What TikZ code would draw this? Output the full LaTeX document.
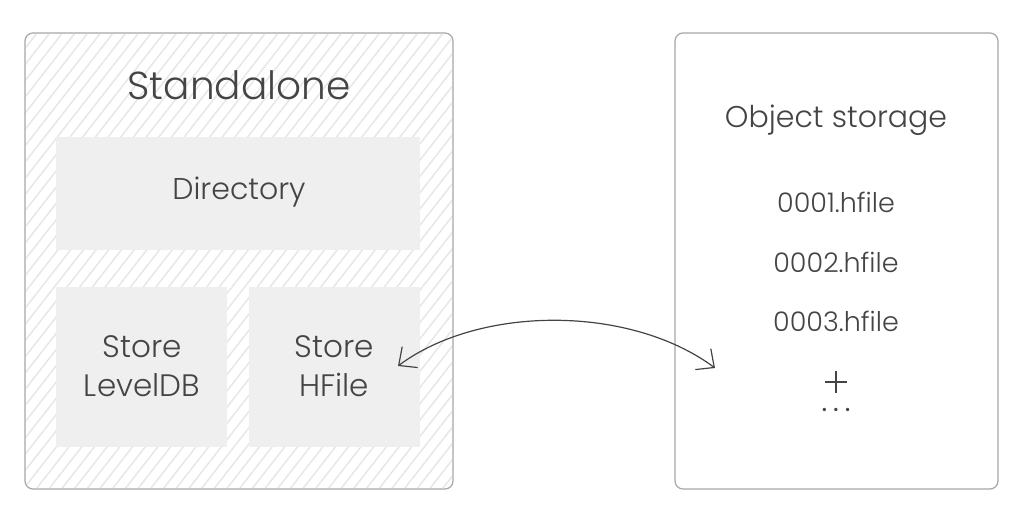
\documentclass[tikz,border=0pt]{standalone}
\usepackage{fontspec}
\setmainfont{Poppins Light}
\newfontfamily\dotfont{Poppins}
\usepackage{tikz}
\usetikzlibrary{arrows.meta,patterns.meta}
\definecolor{txtgray}{HTML}{444444}
\definecolor{linegray}{HTML}{A6A6A6}
\definecolor{boxgray}{HTML}{EFEFEF}
\definecolor{hatchgray}{HTML}{E6E6E6}

\begin{document}
\begin{tikzpicture}[x=0.5pt,y=-0.5pt,
    frame/.style={draw=linegray,line width=0.6pt,rounded corners=4pt},
    part/.style={fill=boxgray,draw=none},
    label/.style={text=txtgray,align=center,font=\fontsize{15.5}{19.5}\selectfont},
    file/.style={text=txtgray,font=\fontsize{13.5}{16}\selectfont}]
            \useasboundingbox (0,0) rectangle (1024,519);
            % standalone side
            \draw[frame,fill=white] (25,33) rectangle (453,489);
            \fill[pattern={Lines[angle=52,distance=5pt,line width=0.7pt]},pattern color=hatchgray,rounded corners=4pt] (26,34) rectangle (452,488);
            \fill[part] (56,137) rectangle (420,250);
            \fill[part] (56,287) rectangle (227,447);
            \fill[part] (249,287) rectangle (420,447);
            \node[label,font=\fontsize{19.5}{24}\selectfont] (standalone) at (239,85) {Standalone};
            \node[label,font=\fontsize{15}{18}\selectfont] (directory) at (239,192) {Directory};
            \node[label] (leveldb) at (142,366) {Store\\LevelDB};
            \node[label] (hfile) at (334,366) {Store\\HFile};
            % object storage side
            \draw[frame,fill=white] (675,33) rectangle (998,489);
            \node[label,font=\fontsize{15}{18}\selectfont] (objstore) at (836,120) {Object storage};
            \node[file] (f1) at (836,202) {0001.hfile};
            \node[file] (f2) at (836,262) {0002.hfile};
            \node[file] (f3) at (836,321) {0003.hfile};
            \draw[txtgray,line width=0.6pt] (825,382) -- (847,382) (836,371) -- (836,393);
            \node[file,font=\dotfont\fontsize{13.5}{16}\selectfont] (more) at (836,410) {.\hspace{3pt}.\hspace{3pt}.};
            % link between them
            \coordinate (hfilein) at (398,366);
            \coordinate (objin) at (715,368);
            \draw[txtgray,line width=0.6pt,{Straight Barb[length=7pt,width=13pt]}-{Straight Barb[length=7pt,width=13pt]}] (hfilein) .. controls (480,305) and (630,305) .. (objin);
        \end{tikzpicture}
\end{document}
